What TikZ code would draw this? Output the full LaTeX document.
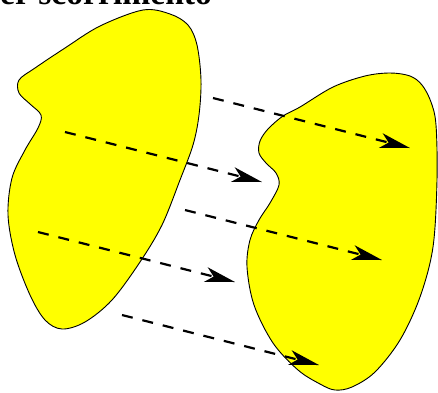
\documentclass[tikz,border=0pt]{standalone}
\usepackage{fontspec}
\setmainfont{Liberation Serif}
\usetikzlibrary{arrows.meta}
\definecolor{blobyellow}{RGB}{255,255,0}
\tikzset{
  blob/.style={fill=blobyellow,draw=black,line width=0.9pt},
  move/.style={line width=2.2pt,dash pattern=on 11pt off 10pt,
    -{Stealth[length=30pt,width=15pt,inset=8pt]}}
}
\begin{document}
\begin{tikzpicture}[x=1pt,y=-1pt]
  \useasboundingbox (0,0) rectangle (438,392);
  % title, cut off by the frame
  \begin{scope}
    \clip (0,0) rectangle (438,4);
    \node[anchor=base west,inner sep=0pt] (title) at (-18.7,4)
      {\fontsize{33.6pt}{40pt}\selectfont\bfseries per scorrimento};
  \end{scope}
  \fill[blob] plot[smooth cycle,tension=0.55] coordinates {
    (143,10) (170,14) (188,25) (197,45) (201,80) (199,115) (193,145)
    (180,180) (162,225) (140,262) (112,300) (85,322) (62,329) (45,320)
    (30,295) (15,255) (8,215) (12,178) (25,150) (38,128) (41,115)
    (30,104) (19,93) (19,80) (35,68) (65,48) (100,26)};
  \fill[blob] plot[smooth cycle,tension=0.55] coordinates {
    (390,73) (410,76) (422,85) (431,102) (436,125) (437,180) (433,247)
    (420,297) (400,340) (375,372) (352,387) (335,390) (320,384) (298,370)
    (273,343) (254,305) (247,267) (250,240) (259,220) (270,203) (279,185)
    (276,173) (266,163) (259,153) (260,141) (268,129) (283,116) (300,107)
    (333,87) (365,76)};
  \foreach \n/\x/\y in {1/213/98,2/65/132,3/185/210,4/38/232,5/122/315}{
    \coordinate (s\n) at (\x,\y);
    \coordinate (e\n) at ([shift={(197,50)}]s\n);
    \draw[move] (s\n) -- (e\n);
  }
\end{tikzpicture}
\end{document}
